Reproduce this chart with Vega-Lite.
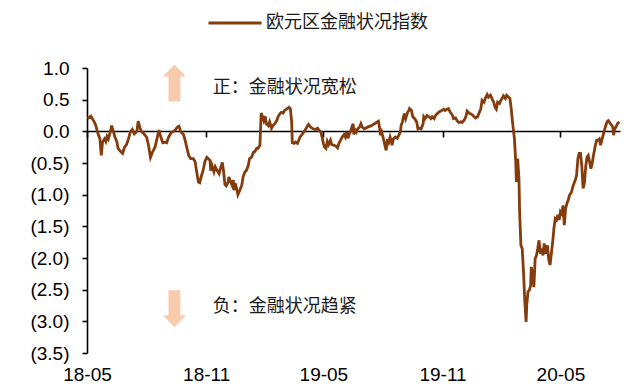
{
  "$schema": "https://vega.github.io/schema/vega-lite/v6.json",
  "width": 533,
  "height": 285,
  "autosize": {"type": "none"},
  "padding": {"left": 87, "top": 68, "right": 11, "bottom": 34},
  "background": "white",
  "config": {
    "view": {"stroke": null},
    "axis": {"grid": false, "labelFont": "Liberation Sans", "labelFontSize": 19, "labelColor": "#000000", "domainColor": "#000000", "tickColor": "#000000", "domainWidth": 1.6, "tickWidth": 1.6, "labelFlush": false, "labelOverlap": false, "title": null}
  },
  "datasets": {
    "fci": [
      {"date":"2018-05-02","value":0.20},{"date":"2018-05-07","value":0.24},{"date":"2018-05-11","value":0.17},{"date":"2018-05-14","value":0.11},{"date":"2018-05-16","value":0.04},{"date":"2018-05-18","value":-0.04},{"date":"2018-05-21","value":-0.12},{"date":"2018-05-23","value":-0.38},{"date":"2018-05-25","value":-0.17},{"date":"2018-05-28","value":-0.12},{"date":"2018-05-30","value":-0.16},
      {"date":"2018-06-01","value":-0.08},{"date":"2018-06-03","value":-0.12},{"date":"2018-06-06","value":-0.01},{"date":"2018-06-08","value":0.09},{"date":"2018-06-11","value":-0.01},{"date":"2018-06-13","value":-0.09},{"date":"2018-06-16","value":-0.16},{"date":"2018-06-18","value":-0.27},{"date":"2018-06-22","value":-0.32},{"date":"2018-06-25","value":-0.35},{"date":"2018-06-28","value":-0.25},
      {"date":"2018-07-01","value":-0.21},{"date":"2018-07-04","value":-0.12},{"date":"2018-07-07","value":-0.01},{"date":"2018-07-10","value":0.03},{"date":"2018-07-13","value":-0.04},{"date":"2018-07-17","value":0.00},{"date":"2018-07-19","value":0.16},{"date":"2018-07-22","value":0.05},{"date":"2018-07-24","value":0.00},{"date":"2018-07-28","value":-0.04},
      {"date":"2018-08-01","value":-0.09},{"date":"2018-08-04","value":-0.22},{"date":"2018-08-07","value":-0.41},{"date":"2018-08-10","value":-0.33},{"date":"2018-08-14","value":-0.25},{"date":"2018-08-17","value":-0.12},{"date":"2018-08-20","value":0.02},{"date":"2018-08-23","value":-0.09},{"date":"2018-08-26","value":-0.18},{"date":"2018-08-29","value":-0.17},
      {"date":"2018-09-01","value":-0.18},{"date":"2018-09-04","value":-0.09},{"date":"2018-09-08","value":-0.02},{"date":"2018-09-12","value":0.00},{"date":"2018-09-15","value":0.03},{"date":"2018-09-18","value":0.07},{"date":"2018-09-20","value":0.08},{"date":"2018-09-23","value":-0.01},{"date":"2018-09-27","value":-0.05},{"date":"2018-09-29","value":-0.12},
      {"date":"2018-10-02","value":-0.25},{"date":"2018-10-05","value":-0.38},{"date":"2018-10-08","value":-0.43},{"date":"2018-10-12","value":-0.43},{"date":"2018-10-15","value":-0.48},{"date":"2018-10-17","value":-0.62},{"date":"2018-10-20","value":-0.80},{"date":"2018-10-22","value":-0.81},{"date":"2018-10-25","value":-0.69},{"date":"2018-10-27","value":-0.63},{"date":"2018-10-30","value":-0.48},
      {"date":"2018-11-02","value":-0.41},{"date":"2018-11-04","value":-0.43},{"date":"2018-11-07","value":-0.46},{"date":"2018-11-08","value":-0.62},{"date":"2018-11-10","value":-0.54},{"date":"2018-11-13","value":-0.64},{"date":"2018-11-15","value":-0.56},{"date":"2018-11-18","value":-0.62},{"date":"2018-11-21","value":-0.67},{"date":"2018-11-23","value":-0.59},{"date":"2018-11-26","value":-0.49},{"date":"2018-11-28","value":-0.64},{"date":"2018-11-30","value":-0.84},
      {"date":"2018-12-02","value":-0.86},{"date":"2018-12-05","value":-0.80},{"date":"2018-12-06","value":-0.72},{"date":"2018-12-09","value":-0.80},{"date":"2018-12-11","value":-0.85},{"date":"2018-12-13","value":-0.77},{"date":"2018-12-14","value":-0.93},{"date":"2018-12-16","value":-0.82},{"date":"2018-12-18","value":-0.90},{"date":"2018-12-20","value":-1.00},{"date":"2018-12-23","value":-0.93},{"date":"2018-12-26","value":-0.85},{"date":"2018-12-28","value":-0.72},{"date":"2018-12-31","value":-0.64},
      {"date":"2019-01-02","value":-0.62},{"date":"2019-01-05","value":-0.54},{"date":"2019-01-07","value":-0.43},{"date":"2019-01-10","value":-0.41},{"date":"2019-01-13","value":-0.33},{"date":"2019-01-15","value":-0.32},{"date":"2019-01-18","value":-0.27},{"date":"2019-01-20","value":-0.27},{"date":"2019-01-23","value":-0.22},{"date":"2019-01-24","value":0.04},{"date":"2019-01-25","value":0.29},{"date":"2019-01-27","value":0.23},{"date":"2019-01-29","value":0.17},{"date":"2019-01-31","value":0.24},
      {"date":"2019-02-02","value":0.12},{"date":"2019-02-05","value":0.09},{"date":"2019-02-07","value":0.15},{"date":"2019-02-10","value":0.05},{"date":"2019-02-12","value":0.09},{"date":"2019-02-15","value":0.12},{"date":"2019-02-18","value":0.17},{"date":"2019-02-20","value":0.23},{"date":"2019-02-23","value":0.28},{"date":"2019-02-25","value":0.30},{"date":"2019-02-28","value":0.29},
      {"date":"2019-03-02","value":0.33},{"date":"2019-03-05","value":0.35},{"date":"2019-03-09","value":0.38},{"date":"2019-03-11","value":0.36},{"date":"2019-03-13","value":0.15},{"date":"2019-03-14","value":-0.18},{"date":"2019-03-17","value":-0.19},{"date":"2019-03-19","value":-0.17},{"date":"2019-03-22","value":-0.19},{"date":"2019-03-26","value":-0.09},{"date":"2019-03-29","value":-0.05},
      {"date":"2019-04-01","value":-0.01},{"date":"2019-04-04","value":0.04},{"date":"2019-04-06","value":0.08},{"date":"2019-04-08","value":0.11},{"date":"2019-04-11","value":0.07},{"date":"2019-04-15","value":0.04},{"date":"2019-04-19","value":0.03},{"date":"2019-04-22","value":0.05},{"date":"2019-04-24","value":0.02},{"date":"2019-04-27","value":-0.01},{"date":"2019-04-29","value":-0.09},
      {"date":"2019-05-01","value":-0.19},{"date":"2019-05-03","value":-0.25},{"date":"2019-05-05","value":-0.27},{"date":"2019-05-07","value":-0.16},{"date":"2019-05-09","value":-0.21},{"date":"2019-05-12","value":-0.14},{"date":"2019-05-14","value":-0.21},{"date":"2019-05-17","value":-0.22},{"date":"2019-05-20","value":-0.23},{"date":"2019-05-23","value":-0.26},{"date":"2019-05-25","value":-0.19},{"date":"2019-05-28","value":-0.13},{"date":"2019-05-30","value":-0.09},
      {"date":"2019-06-02","value":-0.05},{"date":"2019-06-04","value":-0.09},{"date":"2019-06-06","value":-0.01},{"date":"2019-06-08","value":-0.11},{"date":"2019-06-10","value":-0.04},{"date":"2019-06-12","value":0.00},{"date":"2019-06-14","value":0.07},{"date":"2019-06-16","value":0.12},{"date":"2019-06-17","value":-0.05},{"date":"2019-06-19","value":0.02},{"date":"2019-06-21","value":-0.01},{"date":"2019-06-23","value":0.04},{"date":"2019-06-26","value":0.07},{"date":"2019-06-28","value":0.12},{"date":"2019-06-30","value":0.07},
      {"date":"2019-07-03","value":0.04},{"date":"2019-07-05","value":0.05},{"date":"2019-07-09","value":0.07},{"date":"2019-07-14","value":0.09},{"date":"2019-07-19","value":0.12},{"date":"2019-07-23","value":0.15},{"date":"2019-07-25","value":0.16},{"date":"2019-07-27","value":0.04},{"date":"2019-07-28","value":-0.06},{"date":"2019-07-30","value":-0.01},
      {"date":"2019-08-01","value":-0.09},{"date":"2019-08-03","value":-0.17},{"date":"2019-08-05","value":-0.27},{"date":"2019-08-06","value":-0.30},{"date":"2019-08-08","value":-0.12},{"date":"2019-08-10","value":-0.17},{"date":"2019-08-12","value":-0.09},{"date":"2019-08-14","value":-0.16},{"date":"2019-08-15","value":-0.22},{"date":"2019-08-17","value":-0.12},{"date":"2019-08-20","value":-0.09},{"date":"2019-08-23","value":-0.11},{"date":"2019-08-26","value":-0.05},{"date":"2019-08-28","value":-0.01},{"date":"2019-08-29","value":0.09},{"date":"2019-08-31","value":0.15},
      {"date":"2019-09-01","value":0.20},{"date":"2019-09-03","value":0.28},{"date":"2019-09-05","value":0.20},{"date":"2019-09-08","value":0.30},{"date":"2019-09-10","value":0.33},{"date":"2019-09-11","value":0.36},{"date":"2019-09-14","value":0.33},{"date":"2019-09-16","value":0.23},{"date":"2019-09-19","value":0.20},{"date":"2019-09-22","value":0.15},{"date":"2019-09-24","value":0.04},{"date":"2019-09-27","value":0.05},{"date":"2019-09-29","value":0.04},
      {"date":"2019-10-02","value":0.12},{"date":"2019-10-03","value":0.23},{"date":"2019-10-05","value":0.20},{"date":"2019-10-08","value":0.25},{"date":"2019-10-11","value":0.23},{"date":"2019-10-14","value":0.20},{"date":"2019-10-16","value":0.23},{"date":"2019-10-19","value":0.20},{"date":"2019-10-21","value":0.25},{"date":"2019-10-24","value":0.28},{"date":"2019-10-26","value":0.30},{"date":"2019-10-29","value":0.32},{"date":"2019-10-31","value":0.33},
      {"date":"2019-11-03","value":0.35},{"date":"2019-11-05","value":0.33},{"date":"2019-11-08","value":0.35},{"date":"2019-11-10","value":0.36},{"date":"2019-11-13","value":0.30},{"date":"2019-11-16","value":0.26},{"date":"2019-11-18","value":0.20},{"date":"2019-11-21","value":0.21},{"date":"2019-11-24","value":0.16},{"date":"2019-11-26","value":0.14},{"date":"2019-11-29","value":0.15},
      {"date":"2019-12-01","value":0.14},{"date":"2019-12-04","value":0.17},{"date":"2019-12-07","value":0.23},{"date":"2019-12-09","value":0.32},{"date":"2019-12-12","value":0.29},{"date":"2019-12-14","value":0.28},{"date":"2019-12-17","value":0.26},{"date":"2019-12-19","value":0.24},{"date":"2019-12-22","value":0.21},{"date":"2019-12-25","value":0.23},{"date":"2019-12-27","value":0.28},{"date":"2019-12-30","value":0.35},
      {"date":"2020-01-01","value":0.49},{"date":"2020-01-04","value":0.46},{"date":"2020-01-06","value":0.52},{"date":"2020-01-09","value":0.58},{"date":"2020-01-11","value":0.54},{"date":"2020-01-14","value":0.57},{"date":"2020-01-17","value":0.50},{"date":"2020-01-19","value":0.46},{"date":"2020-01-21","value":0.38},{"date":"2020-01-23","value":0.35},{"date":"2020-01-25","value":0.46},{"date":"2020-01-28","value":0.44},{"date":"2020-01-30","value":0.49},
      {"date":"2020-02-01","value":0.52},{"date":"2020-02-03","value":0.56},{"date":"2020-02-06","value":0.52},{"date":"2020-02-08","value":0.57},{"date":"2020-02-11","value":0.54},{"date":"2020-02-13","value":0.52},{"date":"2020-02-15","value":0.36},{"date":"2020-02-17","value":0.15},{"date":"2020-02-20","value":-0.12},{"date":"2020-02-22","value":-0.48},{"date":"2020-02-23","value":-0.80},{"date":"2020-02-24","value":-0.59},{"date":"2020-02-25","value":-0.43},{"date":"2020-02-27","value":-0.75},{"date":"2020-02-28","value":-1.27},
      {"date":"2020-03-01","value":-1.80},{"date":"2020-03-03","value":-1.85},{"date":"2020-03-05","value":-2.22},{"date":"2020-03-07","value":-2.69},{"date":"2020-03-09","value":-3.01},{"date":"2020-03-10","value":-2.74},{"date":"2020-03-12","value":-2.53},{"date":"2020-03-14","value":-2.51},{"date":"2020-03-16","value":-2.43},{"date":"2020-03-17","value":-2.14},{"date":"2020-03-19","value":-2.27},{"date":"2020-03-21","value":-2.46},{"date":"2020-03-23","value":-2.01},{"date":"2020-03-25","value":-1.96},{"date":"2020-03-27","value":-1.85},{"date":"2020-03-29","value":-1.72},{"date":"2020-03-31","value":-1.93},
      {"date":"2020-04-02","value":-1.85},{"date":"2020-04-04","value":-1.96},{"date":"2020-04-06","value":-1.77},{"date":"2020-04-08","value":-1.93},{"date":"2020-04-11","value":-1.80},{"date":"2020-04-13","value":-2.03},{"date":"2020-04-15","value":-2.11},{"date":"2020-04-17","value":-1.93},{"date":"2020-04-19","value":-1.75},{"date":"2020-04-21","value":-1.53},{"date":"2020-04-23","value":-1.38},{"date":"2020-04-25","value":-1.40},{"date":"2020-04-27","value":-1.32},{"date":"2020-04-29","value":-1.40},
      {"date":"2020-05-01","value":-1.27},{"date":"2020-05-03","value":-1.30},{"date":"2020-05-05","value":-1.17},{"date":"2020-05-07","value":-1.48},{"date":"2020-05-09","value":-1.22},{"date":"2020-05-11","value":-1.14},{"date":"2020-05-13","value":-1.09},{"date":"2020-05-15","value":-1.01},{"date":"2020-05-18","value":-0.96},{"date":"2020-05-20","value":-0.88},{"date":"2020-05-22","value":-0.82},{"date":"2020-05-24","value":-0.77},{"date":"2020-05-26","value":-0.69},{"date":"2020-05-28","value":-0.43},{"date":"2020-05-30","value":-0.35},
      {"date":"2020-06-01","value":-0.35},{"date":"2020-06-03","value":-0.54},{"date":"2020-06-05","value":-0.90},{"date":"2020-06-07","value":-0.82},{"date":"2020-06-09","value":-0.56},{"date":"2020-06-11","value":-0.41},{"date":"2020-06-13","value":-0.38},{"date":"2020-06-15","value":-0.48},{"date":"2020-06-17","value":-0.59},{"date":"2020-06-19","value":-0.51},{"date":"2020-06-21","value":-0.38},{"date":"2020-06-24","value":-0.22},{"date":"2020-06-26","value":-0.14},{"date":"2020-06-28","value":-0.14},{"date":"2020-06-30","value":-0.12},
      {"date":"2020-07-02","value":-0.22},{"date":"2020-07-04","value":-0.14},{"date":"2020-07-06","value":-0.06},{"date":"2020-07-08","value":0.02},{"date":"2020-07-10","value":0.09},{"date":"2020-07-12","value":0.15},{"date":"2020-07-14","value":0.17},{"date":"2020-07-16","value":0.14},{"date":"2020-07-18","value":0.11},{"date":"2020-07-21","value":0.07},{"date":"2020-07-22","value":-0.06},{"date":"2020-07-24","value":0.04},{"date":"2020-07-26","value":0.07},{"date":"2020-07-28","value":0.12},{"date":"2020-07-31","value":0.15}
    ],
    "notes": [
      {"date":"2018-11-11","value":0.69,"label":"正：金融状况宽松"},
      {"date":"2018-11-11","value":-2.78,"label":"负：金融状况趋紧"}
    ],
    "arrowsUp": [{"date":"2018-09-13","value":0.765}],
    "arrowsDown": [{"date":"2018-09-13","value":-2.80}]
  },
  "encoding": {
    "x": {
      "field": "date", "type": "temporal",
      "scale": {"type": "utc", "domain": [{"year": 2018, "month": 5, "date": 1, "utc": true}, {"year": 2020, "month": 8, "date": 1, "utc": true}]},
      "axis": {
        "orient": "bottom", "offset": -222,
        "labelExpr": "utcFormat(datum.value, '%y-%m')",
        "values": [
          {"year": 2018, "month": 5, "date": 1, "utc": true},
          {"year": 2018, "month": 11, "date": 1, "utc": true},
          {"year": 2019, "month": 5, "date": 1, "utc": true},
          {"year": 2019, "month": 11, "date": 1, "utc": true},
          {"year": 2020, "month": 5, "date": 1, "utc": true}
        ],
        "tickSize": 6, "labelPadding": 228, "labelAlign": "center"
      }
    },
    "y": {
      "field": "value", "type": "quantitative",
      "scale": {"domain": [-3.5, 1.0], "nice": false, "zero": false},
      "axis": {
        "values": [-3.5, -3, -2.5, -2, -1.5, -1, -0.5, 0, 0.5, 1],
        "tickSize": 5, "labelPadding": 13,
        "labelExpr": "datum.value < 0 ? '(' + format(-datum.value, '.1f') + ')' : format(datum.value, '.1f') + '\u00a0'"
      }
    }
  },
  "layer": [
    {
      "data": {"name": "arrowsUp"},
      "mark": {"type": "point", "filled": true, "color": "#F8CBAD", "opacity": 1, "strokeWidth": 0, "size": 1369, "shape": "M0,-1L0.62,-0.35L0.32,-0.35L0.32,1L-0.32,1L-0.32,-0.35L-0.62,-0.35Z"}
    },
    {
      "data": {"name": "arrowsDown"},
      "mark": {"type": "point", "filled": true, "color": "#F8CBAD", "opacity": 1, "strokeWidth": 0, "size": 1369, "shape": "M0,1L0.62,0.35L0.32,0.35L0.32,-1L-0.32,-1L-0.32,0.35L-0.62,0.35Z"}
    },
    {
      "data": {"name": "notes"},
      "mark": {"type": "text", "align": "left", "baseline": "middle", "font": "Noto Sans CJK SC", "fontSize": 18, "color": "#1a1a1a"},
      "encoding": {"text": {"field": "label"}}
    },
    {
      "data": {"name": "fci"},
      "mark": {"type": "line", "strokeWidth": 2.8, "interpolate": "linear"},
      "encoding": {
        "color": {
          "datum": "欧元区金融状况指数",
          "scale": {"range": ["#843C0C"]},
          "legend": {
            "orient": "none", "legendX": 120, "legendY": -73, "title": null,
            "symbolType": "stroke", "symbolStrokeWidth": 3, "symbolSize": 2809, "symbolStrokeColor": "#843C0C",
            "labelFont": "Noto Sans CJK SC", "labelFontSize": 18, "labelColor": "#1a1a1a", "labelOffset": 3, "labelLimit": 400, "padding": 0
          }
        }
      }
    }
  ]
}
